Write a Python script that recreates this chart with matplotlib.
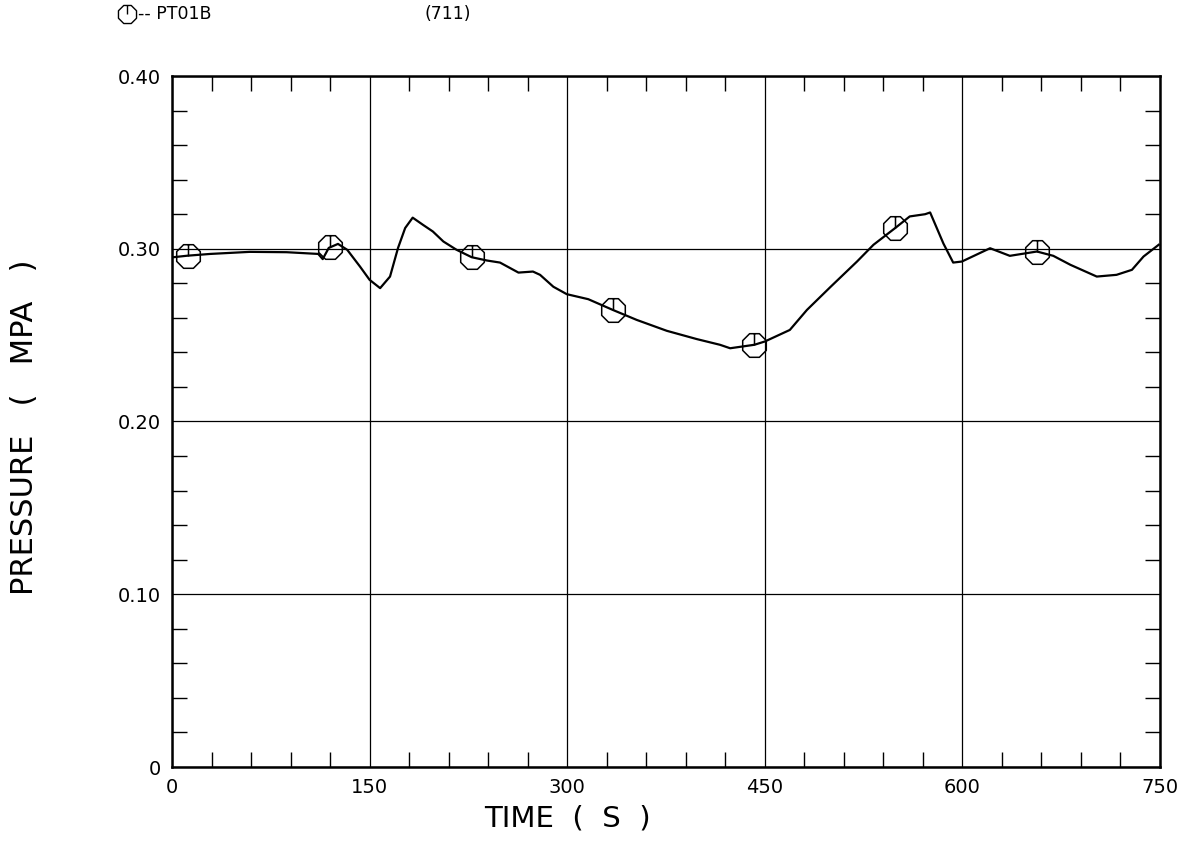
import numpy as np
import matplotlib
matplotlib.use("Agg")
import matplotlib.pyplot as plt
from matplotlib.path import Path
from matplotlib.ticker import MultipleLocator, FixedLocator

# ---- data ----
time_s = [1, 12, 29, 59, 87, 111, 114.4, 119, 126, 133, 142.7, 150, 158, 165.5,
          171.6, 177, 182.7, 190.6, 198, 206, 216, 227.5, 239, 249, 263, 274,
          279.4, 289.5, 299.7, 316, 334.6, 352.8, 375.6, 398.4, 416, 423.7,
          442, 450, 469, 482, 500, 520, 532.5, 549, 560, 571.7, 575.5, 585.6,
          593, 599.6, 621, 636, 656.6, 669, 682, 702, 717, 728.7, 737.5, 749]
pressure_mpa = [0.2951, 0.2960, 0.2970, 0.2982, 0.2980, 0.2970, 0.2940, 0.3005,
                0.3028, 0.2994, 0.2897, 0.2820, 0.2772, 0.2839, 0.3005, 0.3120,
                0.3180, 0.3138, 0.3100, 0.3042, 0.2994, 0.2951, 0.2932, 0.2920,
                0.2862, 0.2868, 0.2849, 0.2780, 0.2737, 0.2708, 0.2646, 0.2588,
                0.2525, 0.2477, 0.2444, 0.2424, 0.2444, 0.2463, 0.2530, 0.2646,
                0.2780, 0.2926, 0.3023, 0.3120, 0.3187, 0.3200, 0.3210, 0.3030,
                0.2920, 0.2926, 0.3003, 0.2959, 0.2984, 0.2959, 0.2907, 0.2839,
                0.2849, 0.2878, 0.2955, 0.3023]
marker_time = [12, 120, 227.5, 334.6, 442, 549, 656.6]
marker_pressure = [0.2960, 0.3008, 0.2951, 0.2646, 0.2444, 0.3120, 0.2984]

x_ticks = [0, 150, 300, 450, 600, 750]
x_ticklabels = ["0", "150", "300", "450", "600", "750"]
y_ticks = [0, 0.10, 0.20, 0.30, 0.40]
y_ticklabels = ["0", "0.10", "0.20", "0.30", "0.40"]

series_name = "PT01B"
run_id = "(711)"
x_label = "TIME  (  S  )"
y_label = "PRESSURE   (   MPA   )"

# ---- marker: octagon with a vertical stroke from top to centre ----
ang = np.deg2rad(np.arange(8) * 45 + 22.5)
octo = [(np.cos(a), np.sin(a)) for a in ang]
verts = octo + [octo[0], (0, 0.924), (0, 0)]
codes = [Path.MOVETO] + [Path.LINETO] * 7 + [Path.CLOSEPOLY, Path.MOVETO, Path.LINETO]
mk = Path(verts, codes)

plt.rcParams['font.family'] = ['DejaVu Sans']
fig = plt.figure(figsize=(11.79, 8.46), dpi=100)
ax = fig.add_axes([172 / 1179, 1 - 767 / 846, (1160 - 172) / 1179, (767 - 76) / 846])

ax.plot(time_s, pressure_mpa, color='black', lw=1.6)
ax.plot(marker_time, marker_pressure, linestyle='none', marker=mk, markersize=17,
        markerfacecolor='none', markeredgecolor='black', markeredgewidth=1.1)

ax.set_xlim(0, 750)
ax.set_ylim(0, 0.40)
ax.xaxis.set_major_locator(FixedLocator(x_ticks))
ax.set_xticklabels(x_ticklabels)
ax.yaxis.set_major_locator(FixedLocator(y_ticks))
ax.set_yticklabels(y_ticklabels)
ax.xaxis.set_minor_locator(MultipleLocator(30))
ax.yaxis.set_minor_locator(MultipleLocator(0.02))

ax.grid(True, which='major', color='black', lw=0.9)
ax.tick_params(which='both', direction='in', top=True, right=True, color='black')
ax.tick_params(which='major', length=0, labelsize=14, pad=8)
ax.tick_params(which='minor', length=11, width=1.0)
for s in ax.spines.values():
    s.set_linewidth(1.8)

fig.text(567 / 1179, 1 - 818 / 846, x_label, fontsize=21, ha='center', va='center')
fig.text(25 / 1179, 1 - 427 / 846, y_label, fontsize=22, ha='center', va='center',
         rotation=90)

# legend-like header
fig.lines.append(plt.Line2D([127 / 1179], [1 - 14 / 846], transform=fig.transFigure,
                            marker=mk, markersize=13, markerfacecolor='none',
                            markeredgecolor='black', markeredgewidth=1.0,
                            linestyle='none'))
fig.text(138 / 1179, 1 - 14 / 846, "-- " + series_name, fontsize=12.5,
         va='center', ha='left')
fig.text(425 / 1179, 1 - 14 / 846, run_id, fontsize=12.5, va='center', ha='left')

fig.savefig("out.png", dpi=100)
